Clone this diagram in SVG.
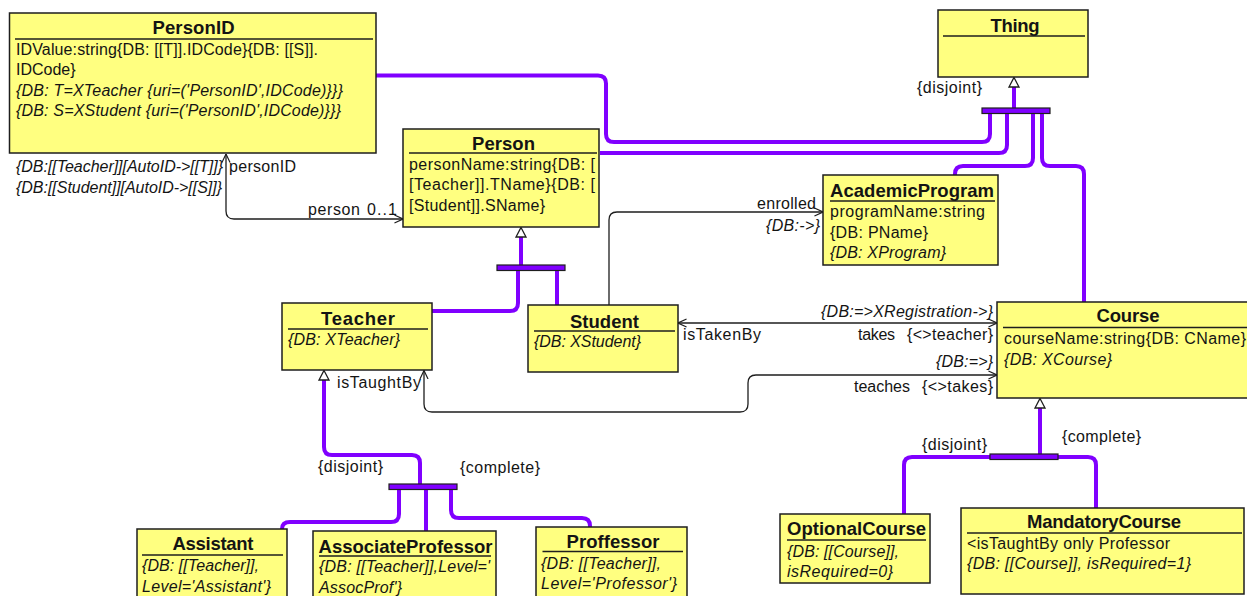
<svg xmlns="http://www.w3.org/2000/svg" width="1247" height="596" viewBox="0 0 1247 596">
  <style>
    text { font-family: "Liberation Sans", Arial, sans-serif; fill: #141414; }
    .ttl { font-size: 18.5px; font-weight: bold; text-anchor: middle; }
    .t { font-size: 16px; }
    .i { font-size: 16px; font-style: italic; }
    .box { fill: #ffff80; stroke: #1e1e1e; stroke-width: 1.5; }
    .ul { stroke: #1e1e1e; stroke-width: 1.5; }
    .gen { fill: none; stroke: #8000ff; stroke-width: 4; }
    .bar { fill: #8000ff; stroke: #1e1e1e; stroke-width: 1.2; }
    .tri { fill: #ffffff; stroke: #1e1e1e; stroke-width: 1.3; }
    .assoc { fill: none; stroke: #1e1e1e; stroke-width: 1.3; }
  </style>
  <defs>
    <marker id="open" viewBox="0 0 10 10" refX="9.5" refY="5" markerWidth="9" markerHeight="10" markerUnits="userSpaceOnUse" orient="auto-start-reverse">
      <path d="M0,0.5 L9.5,5 L0,9.5" fill="none" stroke="#1e1e1e" stroke-width="1.3"/>
    </marker>
  </defs>
  <rect width="1247" height="596" fill="#ffffff"/>

  <g id="connectors">
    <!-- generalization: Thing -->
    <path class="gen" d="M376,75.5 L598,75.5 Q606,75.5 606,83.5 L606,134 Q606,142 614,142 L982,142 Q990,142 990,134 L990,113"/>
    <path class="gen" d="M600,153 L999,153 Q1007,153 1007,145 L1007,113"/>
    <path class="gen" d="M1033,113 L1033,158 Q1033,166 1025,166 L963,166 Q955,166 955,174 L955,176"/>
    <path class="gen" d="M1042,113 L1042,158 Q1042,166 1050,166 L1076,166 Q1084,166 1084,174 L1084,302"/>
    <path class="gen" d="M1014,87 L1014,108"/>
    <rect class="bar" x="982" y="108" width="68" height="5.5"/>
    <polygon class="tri" points="1014,77.5 1019,87 1009,87"/>
    <text class="t" x="917" y="93" textLength="65">{disjoint}</text>

    <!-- generalization: Person -->
    <path class="gen" d="M521,237 L521,265"/>
    <path class="gen" d="M518,270 L518,303 Q518,311 510,311 L432,311"/>
    <path class="gen" d="M557,270 L557,305"/>
    <rect class="bar" x="497" y="265" width="68" height="5.5"/>
    <polygon class="tri" points="521,227.5 526,237 516,237"/>

    <!-- generalization: Teacher -->
    <path class="gen" d="M324,380 L324,447 Q324,455 332,455 L412,455 Q420,455 420,463 L420,484"/>
    <path class="gen" d="M399,489 L399,514 Q399,522 391,522 L290,522 Q282,522 282,529"/>
    <path class="gen" d="M426,489 L426,531"/>
    <path class="gen" d="M451,489 L451,510 Q451,518 459,518 L582,518 Q590,518 590,526 L590,527"/>
    <rect class="bar" x="389" y="484" width="68" height="5.5"/>
    <polygon class="tri" points="324,370.5 329,380 319,380"/>
    <text class="t" x="318" y="472" textLength="65">{disjoint}</text>
    <text class="t" x="460" y="473" textLength="80">{complete}</text>

    <!-- generalization: Course -->
    <path class="gen" d="M1040,408 L1040,454"/>
    <path class="gen" d="M990,457 L912,457 Q904,457 904,465 L904,514"/>
    <path class="gen" d="M1058,457 L1088,457 Q1096,457 1096,465 L1096,508"/>
    <rect class="bar" x="990" y="454" width="68" height="5.5"/>
    <polygon class="tri" points="1040,398.5 1045,408 1035,408"/>
    <text class="t" x="922" y="450" textLength="65">{disjoint}</text>
    <text class="t" x="1062" y="442" textLength="79">{complete}</text>

    <!-- personID / person -->
    <path class="assoc" d="M226,154 L226,211 Q226,219 234,219 L403,219" marker-start="url(#open)" marker-end="url(#open)"/>
    <text class="i" x="16" y="172" textLength="207">{DB:[[Teacher]][AutoID-&gt;[[T]]}</text>
    <text class="t" x="229" y="172" textLength="67">personID</text>
    <text class="i" x="16" y="193" textLength="206">{DB:[[Student]][AutoID-&gt;[[S]]}</text>
    <text class="t" x="308" y="215" textLength="52">person</text>
    <text class="t" x="367" y="215" textLength="30">0..1</text>

    <!-- enrolled -->
    <path class="assoc" d="M609,305 L609,220 Q609,212 617,212 L823,212" marker-end="url(#open)"/>
    <text class="t" x="757" y="209" textLength="59">enrolled</text>
    <text class="i" x="766" y="231" textLength="54">{DB:-&gt;}</text>

    <!-- takes / isTakenBy -->
    <path class="assoc" d="M678,323 L997,323" marker-start="url(#open)" marker-end="url(#open)"/>
    <text class="i" x="821" y="317" textLength="172">{DB:=&gt;XRegistration-&gt;}</text>
    <text class="t" x="683" y="340" textLength="78">isTakenBy</text>
    <text class="t" x="858" y="340" textLength="37">takes</text>
    <text class="t" x="907" y="340" textLength="86">{&lt;&gt;teacher}</text>

    <!-- teaches / isTaughtBy -->
    <path class="assoc" d="M424,370.5 L424,404 Q424,412 432,412 L740,412 Q748,412 748,404 L748,383 Q748,375 756,375 L997,375" marker-start="url(#open)" marker-end="url(#open)"/>
    <text class="t" x="337" y="388" textLength="84">isTaughtBy</text>
    <text class="i" x="936" y="367" textLength="57">{DB:=&gt;}</text>
    <text class="t" x="854" y="392" textLength="56">teaches</text>
    <text class="t" x="922" y="392" textLength="71">{&lt;&gt;takes}</text>
  </g>

  <g id="PersonID">
    <rect class="box" x="9.5" y="13" width="366.5" height="140"/>
    <text class="ttl" x="193.5" y="34" textLength="82">PersonID</text>
    <line class="ul" x1="15" y1="39" x2="373" y2="39"/>
    <text class="t" x="16" y="55" textLength="302">IDValue:string{DB: [[T]].IDCode}{DB: [[S]].</text>
    <text class="t" x="16" y="75">IDCode}</text>
    <text class="i" x="16" y="96" textLength="327">{DB: T=XTeacher {uri=('PersonID',IDCode)}}}</text>
    <text class="i" x="16" y="116" textLength="325">{DB: S=XStudent {uri=('PersonID',IDCode)}}}</text>
  </g>

  <g id="Person">
    <rect class="box" x="403" y="129" width="196" height="98"/>
    <text class="ttl" x="503.5" y="150" textLength="63">Person</text>
    <line class="ul" x1="409" y1="153" x2="597" y2="153"/>
    <text class="t" x="409" y="170" textLength="186">personName:string{DB: [</text>
    <text class="t" x="409" y="190" textLength="186">[Teacher]].TName}{DB: [</text>
    <text class="t" x="409" y="211" textLength="136">[Student]].SName}</text>
  </g>

  <g id="Thing">
    <rect class="box" x="938" y="10" width="150" height="67"/>
    <text class="ttl" x="1015" y="32" textLength="49">Thing</text>
    <line class="ul" x1="943" y1="36" x2="1085" y2="36"/>
  </g>

  <g id="AcademicProgram">
    <rect class="box" x="823" y="175" width="175" height="90"/>
    <text class="ttl" x="912" y="197" textLength="164">AcademicProgram</text>
    <line class="ul" x1="830" y1="201" x2="995" y2="201"/>
    <text class="t" x="830" y="217" textLength="155">programName:string</text>
    <text class="t" x="830" y="238" textLength="98">{DB: PName}</text>
    <text class="i" x="830" y="258" textLength="116">{DB: XProgram}</text>
  </g>

  <g id="Teacher">
    <rect class="box" x="282" y="303" width="150" height="67"/>
    <text class="ttl" x="358" y="325" textLength="74">Teacher</text>
    <line class="ul" x1="288" y1="329" x2="428" y2="329"/>
    <text class="i" x="288" y="345" textLength="112">{DB: XTeacher}</text>
  </g>

  <g id="Student">
    <rect class="box" x="528" y="305" width="150" height="67"/>
    <text class="ttl" x="604.5" y="327.5" textLength="69">Student</text>
    <line class="ul" x1="534" y1="331" x2="675" y2="331"/>
    <text class="i" x="534" y="347" textLength="107">{DB: XStudent}</text>
  </g>

  <g id="Course">
    <rect class="box" x="997" y="302" width="256" height="96"/>
    <text class="ttl" x="1128" y="322" textLength="63">Course</text>
    <line class="ul" x1="1003" y1="327.5" x2="1247" y2="327.5"/>
    <text class="t" x="1004" y="343.5" textLength="242">courseName:string{DB: CName}</text>
    <text class="i" x="1004" y="364.5" textLength="108">{DB: XCourse}</text>
  </g>

  <g id="OptionalCourse">
    <rect class="box" x="780" y="514" width="150" height="69"/>
    <text class="ttl" x="856.5" y="535" textLength="139">OptionalCourse</text>
    <line class="ul" x1="787" y1="540" x2="926" y2="540"/>
    <text class="i" x="787" y="557" textLength="112">{DB: [[Course]],</text>
    <text class="i" x="787" y="577" textLength="106">isRequired=0}</text>
  </g>

  <g id="MandatoryCourse">
    <rect class="box" x="961" y="508" width="283" height="86"/>
    <text class="ttl" x="1104" y="528" textLength="154">MandatoryCourse</text>
    <line class="ul" x1="967" y1="533" x2="1242" y2="533"/>
    <text class="t" x="967" y="548.5" textLength="203">&lt;isTaughtBy only Professor</text>
    <text class="i" x="967" y="568.5" textLength="224">{DB: [[Course]], isRequired=1}</text>
  </g>

  <g id="Assistant">
    <rect class="box" x="137" y="529" width="150" height="72"/>
    <text class="ttl" x="213" y="550" textLength="81">Assistant</text>
    <line class="ul" x1="142" y1="555" x2="283" y2="555"/>
    <text class="i" x="142" y="571" textLength="117">{DB: [[Teacher]],</text>
    <text class="i" x="142" y="592" textLength="129">Level='Assistant'}</text>
  </g>

  <g id="AssociateProfessor">
    <rect class="box" x="313" y="531" width="183" height="70"/>
    <text class="ttl" x="405.5" y="552.5" textLength="174">AssociateProfessor</text>
    <line class="ul" x1="319" y1="556" x2="491" y2="556"/>
    <text class="i" x="319" y="572" textLength="171">{DB: [[Teacher]],Level='</text>
    <text class="i" x="319" y="593" textLength="83">AssocProf'}</text>
  </g>

  <g id="Proffessor">
    <rect class="box" x="536" y="527" width="151" height="74"/>
    <text class="ttl" x="613" y="548" textLength="93">Proffessor</text>
    <line class="ul" x1="542.5" y1="551.5" x2="683" y2="551.5"/>
    <text class="i" x="541" y="568.5" textLength="120">{DB: [[Teacher]],</text>
    <text class="i" x="541" y="589" textLength="136">Level='Professor'}</text>
  </g>
</svg>
